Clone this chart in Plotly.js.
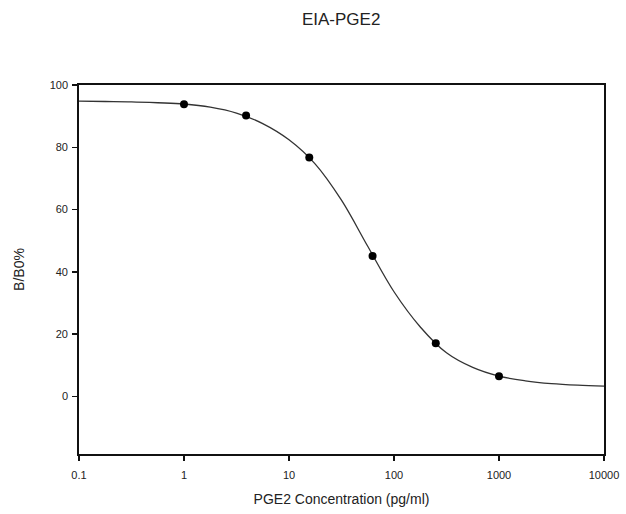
<!DOCTYPE html>
<html>
<head>
<meta charset="utf-8">
<script src="https://cdn.plot.ly/plotly-3.0.1.min.js"></script>
<style>html,body{margin:0;padding:0;background:#fff;}#chart{width:626px;height:514px;}</style>
</head>
<body>
<div id="chart"></div>
<script>
// Standard points (PGE2 concentration, pg/ml) and B/B0 %
const concentrations = [1, 3.9, 15.6, 62.5, 250, 1000];
const bb0Values = [93.8, 90.2, 76.7, 45.1, 17.1, 6.5];

// Fitted curve at quarter-decade steps
const curveX = [0.1, 0.178, 0.316, 0.562, 1, 1.78, 3.16, 5.62, 10, 17.8, 31.6, 56.2, 100, 178, 316, 562, 1000, 1780, 3160, 5620, 10000];
const curveY = [94.8, 94.7, 94.6, 94.3, 93.9, 92.9, 91.0, 87.6, 82.4, 74.6, 63.0, 48.2, 33.6, 22.3, 14.0, 9.3, 6.5, 5.0, 4.1, 3.6, 3.3];

// Axis ticks
const xTickVals = [0.1, 1, 10, 100, 1000, 10000];
const xTickText = ["0.1", "1", "10", "100", "1000", "10000"];
const yTickVals = [0, 20, 40, 60, 80, 100];

const textColor = "#222";
const fontFamily = "Liberation Sans, Arial, sans-serif";

const traces = [
  {
    x: curveX, y: curveY, type: "scatter", mode: "lines",
    line: {color: "#333", width: 1.3, shape: "spline", smoothing: 1},
    hoverinfo: "skip", showlegend: false
  },
  {
    x: concentrations, y: bb0Values, type: "scatter", mode: "markers",
    marker: {color: "#000", size: 8, symbol: "circle"},
    showlegend: false
  }
];

const layout = {
  width: 626, height: 514,
  margin: {l: 79, r: 22, t: 85, b: 60},
  paper_bgcolor: "#fff", plot_bgcolor: "#fff",
  font: {family: fontFamily, color: textColor, size: 12},
  title: {text: "EIA-PGE2", x: 0.545, xanchor: "center", y: 0.962, yanchor: "middle",
          font: {family: fontFamily, size: 17, color: textColor}},
  xaxis: {
    type: "log", range: [-1, 4],
    tickvals: xTickVals, ticktext: xTickText,
    ticks: "outside", ticklen: 5, tickwidth: 1.5, tickcolor: "#111",
    ticklabelstandoff: 5,
    showline: true, linecolor: "#111", linewidth: 1.8, mirror: true,
    showgrid: false, zeroline: false,
    tickfont: {size: 11, color: textColor},
    title: {text: "PGE2 Concentration (pg/ml)", standoff: 14, font: {size: 14, color: textColor}}
  },
  yaxis: {
    range: [-18.5, 100],
    tickvals: yTickVals,
    ticks: "outside", ticklen: 5, tickwidth: 1.5, tickcolor: "#111",
    ticklabelstandoff: 2,
    showline: true, linecolor: "#111", linewidth: 1.8, mirror: true,
    showgrid: false, zeroline: false,
    tickfont: {size: 11, color: textColor},
    title: {text: "B/B0%", standoff: 22, font: {size: 14, color: textColor}}
  }
};

Plotly.newPlot("chart", traces, layout, {displayModeBar: false, staticPlot: true});
</script>
</body>
</html>
